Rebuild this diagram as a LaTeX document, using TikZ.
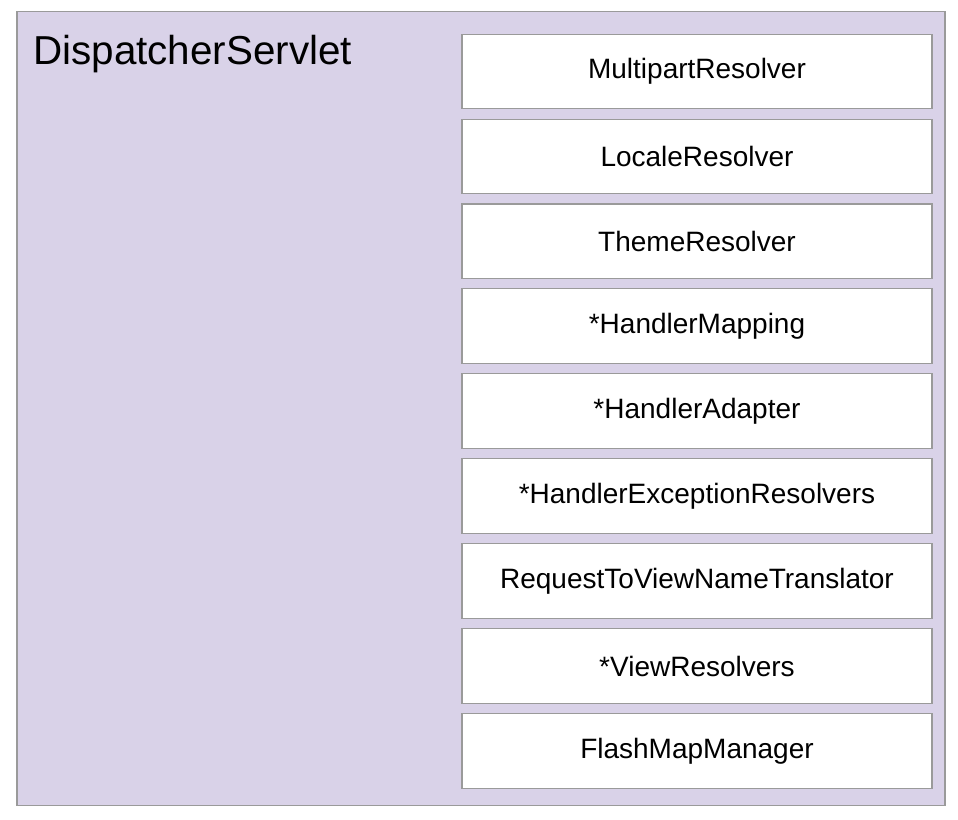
\documentclass[tikz,border=0pt]{standalone}
\usepackage{fontspec}
\setmainfont{Liberation Sans}
\usepackage{tikz}
\usetikzlibrary{positioning}
\definecolor{servletbg}{HTML}{D9D2E8}
\definecolor{boxline}{HTML}{9A9A9A}
\tikzset{
  servlet/.style = {draw=boxline, fill=servletbg, thick, inner sep=0pt,
    minimum width=696pt, minimum height=596pt},
  title/.style = {inner sep=0pt, font=\fontsize{30.3}{35}\selectfont},
  resolver/.style = {draw=boxline, fill=white, thick, inner sep=0pt,
    minimum width=352.5pt, minimum height=56pt,
    font=\fontsize{21}{25}\selectfont}
}
\begin{document}
\begin{tikzpicture}[x=0.75pt, y=-0.75pt, node distance=6.9pt]
\useasboundingbox (0,0) rectangle (958,820);
\node [servlet] (servlet) at (481,408.5) {};
\node [title, anchor=base west] (title) at (33,65) {DispatcherServlet};
\node [resolver] (multipart) at (697,71.5) {MultipartResolver};
\node [resolver, below=of multipart] (locale) {LocaleResolver};
\node [resolver, below=of locale] (theme) {ThemeResolver};
\node [resolver, below=of theme] (mapping) {*HandlerMapping};
\node [resolver, below=of mapping] (adapter) {*HandlerAdapter};
\node [resolver, below=of adapter] (exception) {*HandlerExceptionResolvers};
\node [resolver, below=of exception] (translator) {RequestToViewNameTranslator};
\node [resolver, below=of translator] (view) {*ViewResolvers};
\node [resolver, below=of view] (flashmap) {FlashMapManager};
\end{tikzpicture}
\end{document}
